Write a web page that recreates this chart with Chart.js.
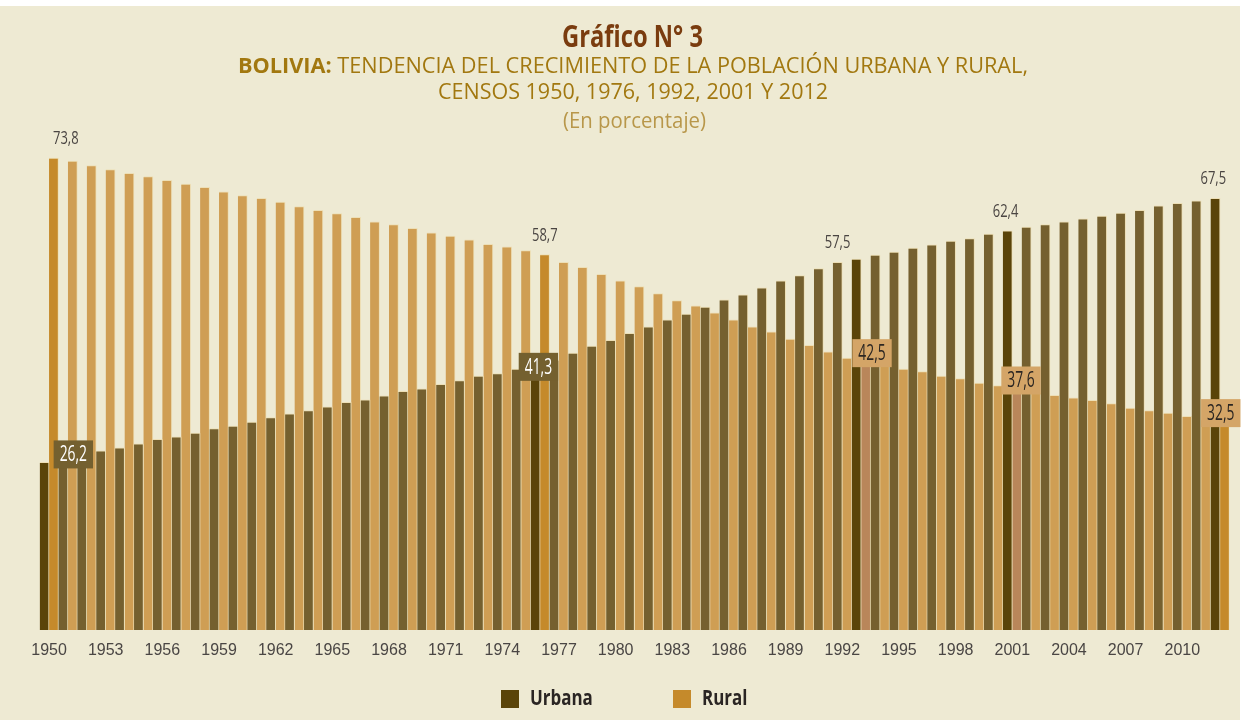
<!DOCTYPE html>
<html>
<head>
<meta charset="utf-8">
<title>Gráfico N° 3</title>
<script src="https://cdn.jsdelivr.net/npm/chart.js@4.4.1/dist/chart.umd.min.js"></script>
<style>
  html, body { margin: 0; padding: 0; background: #ffffff; }
  #wrap { width: 1245px; height: 720px; }
</style>
</head>
<body>
<div id="wrap"><canvas id="myChart" width="1245" height="720"></canvas></div>
<script>
// años (categorias)
const anios = [
    '1950', '1951', '1952', '1953', '1954', '1955', '1956', '1957', '1958', '1959',
    '1960', '1961', '1962', '1963', '1964', '1965', '1966', '1967', '1968', '1969',
    '1970', '1971', '1972', '1973', '1974', '1975', '1976', '1977', '1978', '1979',
    '1980', '1981', '1982', '1983', '1984', '1985', '1986', '1987', '1988', '1989',
    '1990', '1991', '1992', '1993', '1994', '1995', '1996', '1997', '1998', '1999',
    '2000', '2001', '2002', '2003', '2004', '2005', '2006', '2007', '2008', '2009',
    '2010', '2011', '2012'
];

// porcentaje poblacion urbana
const urbana = [
    26.2, 26.7, 27.4, 28.0, 28.5, 29.1, 29.8, 30.2, 30.8, 31.5,
    31.9, 32.5, 33.2, 33.8, 34.3, 34.9, 35.6, 36.0, 36.6, 37.3,
    37.7, 38.4, 39.0, 39.7, 40.1, 40.8, 41.3, 42.2, 43.3, 44.4,
    45.3, 46.4, 47.4, 48.5, 49.4, 50.5, 51.6, 52.4, 53.5, 54.6,
    55.4, 56.5, 57.5, 58.0, 58.6, 59.1, 59.7, 60.2, 60.8, 61.2,
    61.9, 62.4, 63.0, 63.4, 63.8, 64.3, 64.7, 65.2, 65.6, 66.3,
    66.7, 67.1, 67.5
];

// porcentaje poblacion rural
const rural = [
    73.8, 73.3, 72.6, 72.0, 71.4, 70.9, 70.3, 69.7, 69.2, 68.5,
    67.9, 67.5, 66.9, 66.2, 65.6, 65.1, 64.5, 63.8, 63.4, 62.8,
    62.1, 61.6, 61.0, 60.3, 59.9, 59.3, 58.7, 57.5, 56.7, 55.6,
    54.6, 53.7, 52.6, 51.5, 50.7, 49.6, 48.5, 47.4, 46.6, 45.5,
    44.5, 43.5, 42.5, 42.0, 41.4, 40.8, 40.4, 39.7, 39.3, 38.6,
    38.2, 37.6, 37.0, 36.7, 36.3, 35.9, 35.4, 34.7, 34.3, 33.9,
    33.4, 32.9, 32.5
];

// etiquetas del eje x
const etiquetasEje = [
    '1950', '1953', '1956', '1959', '1962', '1965', '1968', '1971', '1974', '1977',
    '1980', '1983', '1986', '1989', '1992', '1995', '1998', '2001', '2004', '2007', '2010'
];

// barras resaltadas
const resaltoUrbana = ['1950', '1976', '1993', '2001', '2012'];
const resaltoRuralOcre = ['1950', '1976', '2012'];
const resaltoRuralRojizo = ['1993', '2001'];

const FUENTE = "'Open Sans', 'Noto Sans', sans-serif";
const FUENTE_EJE = "'Liberation Sans', Arial, sans-serif";

const colores = {
    fondo: '#eeead3',
    urbana: '#75602f',
    urbanaCenso: '#5a4409',
    rural: '#cf9e54',
    ruralCenso: '#c58a2b',
    ruralRojizo: '#b9865a',
    borde: 'rgba(236, 222, 178, 0.9)'
};

// etiquetas de valores
const etiquetas = [
    {serie: 1, anio: '1950', tipo: 'arriba', dx: 12},
    {serie: 1, anio: '1976', tipo: 'arriba', dx: 0},
    {serie: 0, anio: '1992', tipo: 'arriba', dx: 0},
    {serie: 0, anio: '2001', tipo: 'arriba', dx: -2},
    {serie: 0, anio: '2012', tipo: 'arriba', dx: -2},
    {serie: 0, anio: '1950', tipo: 'caja', dx: 29, dy: -8},
    {serie: 0, anio: '1976', tipo: 'caja', dx: 3, dy: 1},
    {serie: 1, anio: '1992', tipo: 'caja', dx: 25, dy: -5},
    {serie: 1, anio: '2001', tipo: 'caja', dx: 4, dy: -9},
    {serie: 1, anio: '2012', tipo: 'caja', dx: -4, dy: -9}
];

function coma(v) {
    return v.toFixed(1).replace('.', ',');
}

// texto comprimido en horizontal (la fuente original es condensada)
function texto(ctx, t, x, y, sx) {
    ctx.save();
    ctx.translate(x, y);
    ctx.scale(sx, 1);
    ctx.fillText(t, 0, 0);
    ctx.restore();
}

const fondo = {
    id: 'fondo',
    beforeDraw: function (chart) {
        let ctx = chart.ctx;
        ctx.save();
        ctx.fillStyle = colores.fondo;
        ctx.fillRect(0, 6, 1240, 714);
        ctx.restore();
    }
};

const encabezado = {
    id: 'encabezado',
    afterDraw: function (chart) {
        let ctx = chart.ctx;
        ctx.save();
        ctx.textBaseline = 'middle';
        ctx.textAlign = 'left';

        // titulo
        ctx.fillStyle = '#7a3c0f';
        ctx.font = 'bold 30px ' + FUENTE;
        let t = 'Gráfico N° 3';
        let s = 141 / ctx.measureText(t).width;
        texto(ctx, t, 562, 38, s);

        // linea 2
        let negrita = 'bold 22px ' + FUENTE;
        let normal = '22px ' + FUENTE;
        let a = 'BOLIVIA:';
        let b = ' TENDENCIA DEL CRECIMIENTO DE LA POBLACIÓN URBANA Y RURAL,';
        ctx.font = negrita;
        let w1 = ctx.measureText(a).width;
        ctx.font = normal;
        let w2 = ctx.measureText(b).width;
        s = 790 / (w1 + w2);
        ctx.fillStyle = '#a27810';
        ctx.font = negrita;
        texto(ctx, a, 238, 67, s);
        ctx.font = normal;
        texto(ctx, b, 238 + w1 * s, 67, s);

        // linea 3
        t = 'CENSOS 1950, 1976, 1992, 2001 Y 2012';
        s = 390 / ctx.measureText(t).width;
        texto(ctx, t, 438, 93, s);

        // linea 4
        ctx.fillStyle = '#b8974a';
        t = '(En porcentaje)';
        s = 143 / ctx.measureText(t).width;
        texto(ctx, t, 563, 122, s);
        ctx.restore();
    }
};

const valores = {
    id: 'valores',
    afterDatasetsDraw: function (chart) {
        let ctx = chart.ctx;
        ctx.save();
        ctx.textAlign = 'center';
        ctx.textBaseline = 'middle';
        etiquetas.forEach(function (e) {
            let i = anios.indexOf(e.anio);
            let bar = chart.getDatasetMeta(e.serie).data[i];
            let v = chart.data.datasets[e.serie].data[i];
            let txt = coma(v);
            if (e.tipo === 'arriba') {
                ctx.font = '18px ' + FUENTE;
                ctx.fillStyle = '#4a4542';
                texto(ctx, txt, bar.x + e.dx, bar.y - 19, 0.72);
            } else {
                ctx.font = '21px ' + FUENTE;
                let w = ctx.measureText(txt).width * 0.66 + 12;
                let h = 28;
                let cx = bar.x + e.dx;
                let cy = bar.y + e.dy;
                ctx.fillStyle = e.serie === 0 ? '#74602f' : '#d4a567';
                ctx.fillRect(cx - w / 2, cy - h / 2, w, h);
                ctx.fillStyle = e.serie === 0 ? '#ffffff' : '#2b2622';
                texto(ctx, txt, cx, cy + 1, 0.66);
            }
        });
        ctx.restore();
    }
};

const leyenda = {
    id: 'leyenda',
    afterDraw: function (chart) {
        let ctx = chart.ctx;
        let items = [
            {texto: chart.data.datasets[0].label, color: colores.urbanaCenso, x: 501},
            {texto: chart.data.datasets[1].label, color: colores.ruralCenso, x: 673}
        ];
        ctx.save();
        ctx.textBaseline = 'middle';
        ctx.textAlign = 'left';
        ctx.font = 'bold 22px ' + FUENTE;
        items.forEach(function (it) {
            ctx.fillStyle = it.color;
            ctx.fillRect(it.x, 690, 18, 18);
            ctx.fillStyle = '#2a2523';
            texto(ctx, it.texto, it.x + 29, 699, 0.77);
        });
        ctx.restore();
    }
};

let ctx = document.getElementById('myChart');
let myChart = new Chart(ctx, {
    type: 'bar',
    data: {
        labels: anios,
        datasets: [{
            label: 'Urbana',
            data: urbana,
            backgroundColor: anios.map(function (a) {
                return resaltoUrbana.includes(a) ? colores.urbanaCenso : colores.urbana;
            }),
            borderColor: colores.borde,
            borderWidth: {top: 1, right: 1, left: 0, bottom: 0},
            borderSkipped: 'start'
        }, {
            label: 'Rural',
            data: rural,
            backgroundColor: anios.map(function (a) {
                if (resaltoRuralOcre.includes(a)) return colores.ruralCenso;
                if (resaltoRuralRojizo.includes(a)) return colores.ruralRojizo;
                return colores.rural;
            }),
            borderColor: colores.borde,
            borderWidth: {top: 1, right: 1, left: 0, bottom: 0},
            borderSkipped: 'start'
        }]
    },
    options: {
        responsive: false,
        animation: false,
        devicePixelRatio: 1,
        datasets: {
            bar: {
                barPercentage: 1,
                categoryPercentage: 1
            }
        },
        layout: {
            padding: {left: 39.6, right: 15.5, top: 118.3, bottom: 50}
        },
        plugins: {
            legend: {display: false},
            title: {display: false},
            tooltip: {enabled: false}
        },
        scales: {
            x: {
                grid: {display: false, drawTicks: false},
                border: {display: false},
                afterFit: function (scale) {
                    scale.height = 40;
                },
                ticks: {
                    autoSkip: false,
                    maxRotation: 0,
                    minRotation: 0,
                    padding: 11,
                    color: '#4a4644',
                    font: {family: FUENTE_EJE, size: 16},
                    callback: function (value) {
                        let y = this.getLabelForValue(value);
                        return etiquetasEje.includes(y) ? y : '';
                    }
                }
            },
            y: {
                display: false,
                min: 0,
                max: 80
            }
        }
    },
    plugins: [fondo, encabezado, valores, leyenda]
});
</script>
</body>
</html>
